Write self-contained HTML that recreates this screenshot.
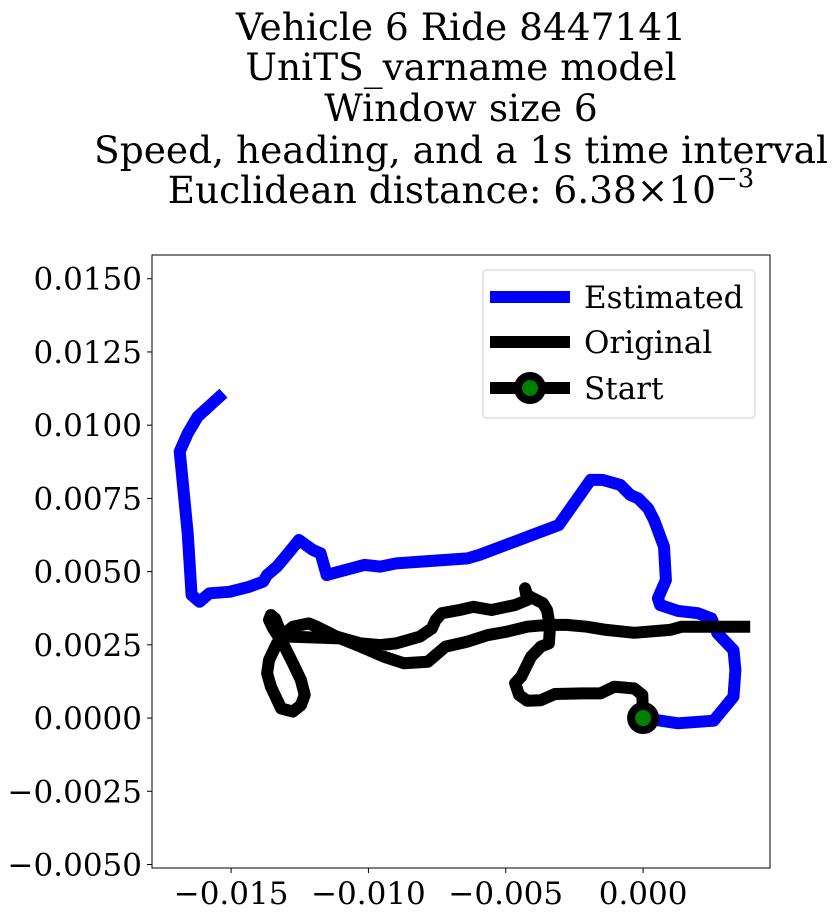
<!DOCTYPE html>
<html><head><meta charset="utf-8"><style>
body{margin:0;background:#fff;}
svg{display:block;font-family:"DejaVu Serif","Liberation Serif",serif;}
</style></head><body>
<svg id="chart" width="834" height="917" viewBox="0 0 834 917">
<g font-size="37.5" text-anchor="middle" fill="#000">
<text x="461" y="40">Vehicle 6 Ride 8447141</text>
<text x="461" y="80">UniTS_varname model</text>
<text x="461" y="121">Window size 6</text>
<text x="461" y="163">Speed, heading, and a 1s time interval</text>
<text x="461" y="203">Euclidean distance: 6.38×10<tspan dy="-16" font-size="26">−3</tspan></text>
</g>
<g id="plot"></g>
</svg>
<script>
const xTicks=[-0.015,-0.010,-0.005,0.000];
const xTickLabels=["−0.015","−0.010","−0.005","0.000"];
const yTicks=[-0.005,-0.0025,0,0.0025,0.005,0.0075,0.01,0.0125,0.015];
const yTickLabels=["−0.0050","−0.0025","0.0000","0.0025","0.0050","0.0075","0.0100","0.0125","0.0150"];
const estX=[0,1.27,2.57,3.29,3.36,3.29,2.71,2.49,1.99,1.27,0.62,0.54,0.83,0.76,0.40,0.18,-0.18,-0.47,-0.83,-1.48,-1.91,-3.07,-4.52,-5.96,-6.39,-8.99,-9.57,-10.15,-11.31,-11.52,-11.74,-12.03,-12.53,-12.82,-13.33,-13.69,-13.83,-14.34,-15.06,-15.79,-16.15,-16.44,-16.58,-16.87,-16.58,-16.22,-15.28];
const estY=[0,-0.18,-0.09,0.73,1.64,2.32,2.89,3.40,3.58,3.66,3.86,4.09,4.71,5.85,6.76,7.16,7.50,7.62,7.96,8.13,8.13,6.59,6.08,5.57,5.45,5.28,5.17,5.23,4.94,4.88,5.62,5.74,6.08,5.74,5.17,4.88,4.66,4.48,4.31,4.26,3.97,4.20,6.31,9.10,9.72,10.29,11.09];
const origX=[0,-0.03,-0.32,-1.05,-1.55,-2.20,-3.21,-3.72,-4.22,-4.52,-4.66,-4.44,-4.08,-3.72,-3.43,-3.39,-3.50,-3.65,-4.01,-4.22,-4.30,-4.22,-4.66,-5.52,-6.18,-6.68,-7.33,-7.55,-7.69,-8.13,-8.99,-9.57,-10.29,-11.16,-11.88,-12.17,-12.75,-13.04,-13.33,-13.62,-13.69,-13.55,-13.18,-12.75,-12.46,-12.32,-12.46,-12.75,-13.11,-13.47,-13.62,-13.55,-13.40,-13.18,-12.90,-11.02,-10.29,-9.43,-8.70,-7.84,-7.19,-6.39,-5.67,-4.95,-4.22,-3.50,-2.78,-2.06,-1.34,-0.32,0.98,1.41,2.57,3.90];
const origY=[0,0.79,1.01,1.07,0.84,0.84,0.82,0.61,0.59,0.79,1.19,1.41,2.09,2.44,2.55,3.12,3.69,3.92,4.09,4.20,4.43,4.03,3.86,3.69,3.80,3.69,3.58,3.35,3.06,2.78,2.55,2.49,2.55,2.78,3.12,3.23,3.12,2.89,2.55,1.98,1.53,1.07,0.33,0.22,0.44,0.79,1.30,1.87,2.55,3.06,3.35,3.52,3.40,2.89,2.78,2.72,2.44,2.09,1.87,1.92,2.44,2.61,2.83,2.95,3.12,3.18,3.18,3.12,3.01,2.91,3.01,3.12,3.12,3.12];
const startPt=[0,0];
const NS="http://www.w3.org/2000/svg";
const L=152,R=770,T=255,B=868;
const xMin=-0.01788,xMax=0.00462,yMin=-0.00512,yMax=0.01581;
const sx=v=>L+(v-xMin)/(xMax-xMin)*(R-L);
const sy=v=>B-(v-yMin)/(yMax-yMin)*(B-T);
const g=document.getElementById('plot');
function mk(t,a){const e=document.createElementNS(NS,t);for(const k in a)e.setAttribute(k,a[k]);return e;}
function line(xs,ys,color,name){
  const d=xs.map((x,i)=>(i?'L':'M')+sx(x/1000).toFixed(1)+','+sy(ys[i]/1000).toFixed(1)).join(' ');
  const p=mk('path',{d:d,fill:'none',stroke:color,'stroke-width':12,'stroke-linejoin':'round'});
  
  
  g.appendChild(p);
}
line(estX,estY,'#0000ff','estimated-line');
line(origX,origY,'#000','original-line');
const sc=mk('circle',{cx:sx(startPt[0]),cy:sy(startPt[1]),r:12,fill:'#008000',stroke:'#000','stroke-width':8});


g.appendChild(sc);
const fr=mk('rect',{x:L,y:T,width:R-L,height:B-T,fill:'none',stroke:'#000','stroke-width':1});


g.appendChild(fr);
xTicks.forEach((v,i)=>{
  const x=sx(v);
  g.appendChild(mk('line',{x1:x,x2:x,y1:B,y2:B+5,stroke:'#000'}));
  const t=mk('text',{x:x,y:B+36,'font-size':31,'text-anchor':'middle'});
  t.textContent=xTickLabels[i];
  
  
  g.appendChild(t);
});
yTicks.forEach((v,i)=>{
  const y=sy(v);
  g.appendChild(mk('line',{x1:L-5,x2:L,y1:y,y2:y,stroke:'#000'}));
  const t=mk('text',{x:L-10,y:y+11,'font-size':31,'text-anchor':'end'});
  t.textContent=yTickLabels[i];
  
  
  g.appendChild(t);
});
const lg=mk('g',{});


lg.appendChild(mk('rect',{x:483,y:270,width:272,height:148,rx:4,fill:'#fff',stroke:'#ccc'}));
[['Estimated','#0000ff',297],['Original','#000',342],['Start','#000',388]].forEach((e,i)=>{
  const en=mk('g',{});
  
  
  en.appendChild(mk('line',{x1:490,x2:570,y1:e[2],y2:e[2],stroke:e[1],'stroke-width':12}));
  if(i==2)en.appendChild(mk('circle',{cx:530,cy:e[2],r:12,fill:'#008000',stroke:'#000','stroke-width':8}));
  const t=mk('text',{x:584,y:e[2]+11,'font-size':31});
  t.textContent=e[0];
  en.appendChild(t);
  lg.appendChild(en);
});
g.appendChild(lg);
</script>
</body></html>
